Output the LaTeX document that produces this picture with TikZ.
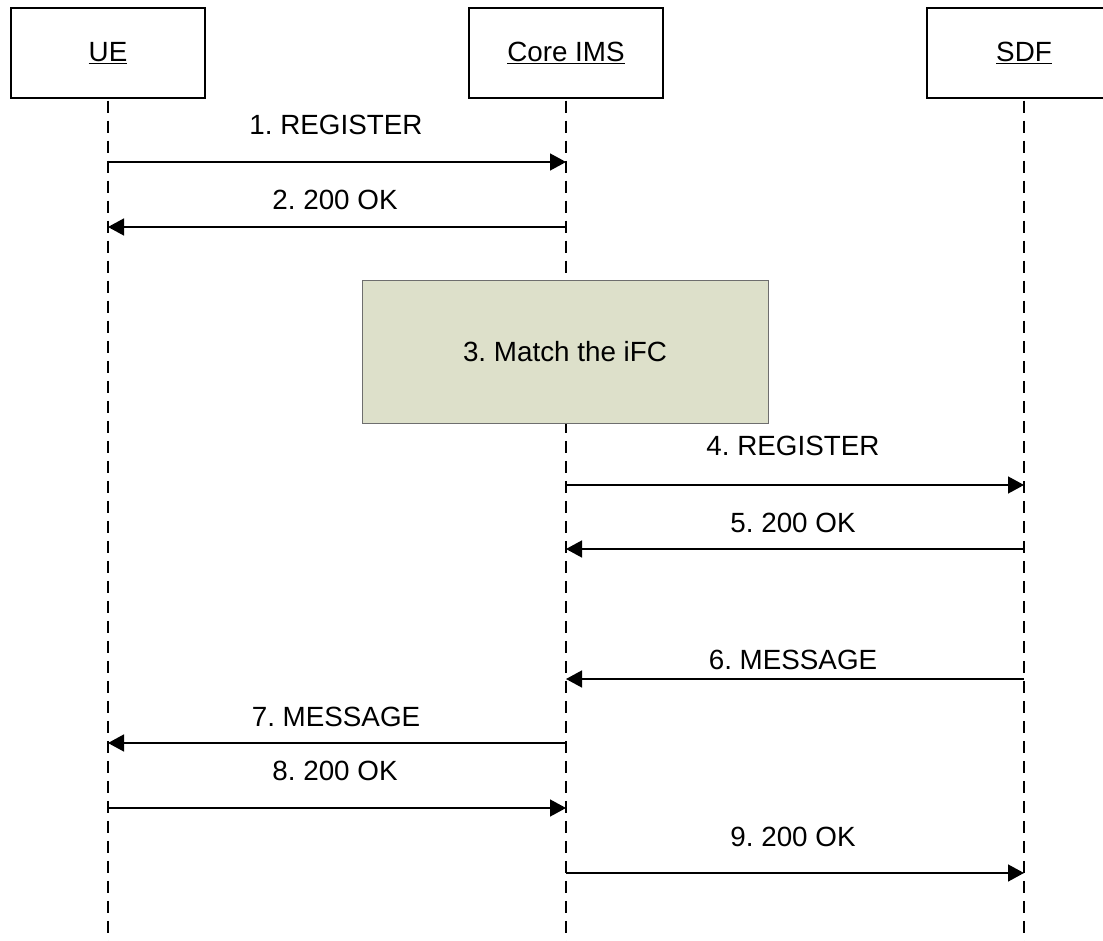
\documentclass[tikz,border=0pt]{standalone}
\usepackage{fontspec}
\setmainfont{Liberation Sans}
\usetikzlibrary{arrows.meta}
\frenchspacing
\definecolor{actfill}{RGB}{221,224,202}
\definecolor{actline}{RGB}{110,110,110}
\tikzset{
  txt/.style={font=\fontsize{27.8}{32}\selectfont\frenchspacing},
  actor/.style={txt,draw=black,line width=1.5pt,fill=white,minimum width=194pt,minimum height=90pt,inner sep=0pt},
  lifeline/.style={draw=black,line width=1.4pt,dash pattern=on 12pt off 8pt},
  msg/.style={draw=black,line width=1.5pt,-{Triangle[length=16pt,width=17pt]}},
  lbl/.style={txt,inner sep=0pt,anchor=base},
  activity/.style={txt,draw=actline,line width=1pt,fill=actfill,minimum width=406pt,minimum height=143pt,inner sep=0pt}
}
\begin{document}
\begin{tikzpicture}[x=1pt,y=-1pt]
\useasboundingbox (0,0) rectangle (1103,941);
\clip (0,0) rectangle (1103,941);
% actors
\node[actor] (ue)  at (108,53) {\underline{UE}};
\node[actor] (ims) at (566,53) {\underline{Core IMS}};
\node[actor] (sdf) at (1024,53) {\underline{SDF}};
% lifeline ends
\coordinate (ueEnd)  at (108,941);
\coordinate (imsEnd) at (566,941);
\coordinate (sdfEnd) at (1024,941);
\draw[lifeline] ([yshift=-2pt]ue.south) -- (ueEnd);
\draw[lifeline] ([yshift=-2pt]ims.south) -- (imsEnd);
\draw[lifeline] ([yshift=-2pt]sdf.south) -- (sdfEnd);
% message points
\foreach \n/\y in {1/162,2/227,4/485,5/549,6/679,7/743,8/808,9/873}{
  \coordinate (ue\n)  at (108,\y);
  \coordinate (ims\n) at (566,\y);
  \coordinate (sdf\n) at (1024,\y);
}
% activity
\node[activity] (match) at (565,352) {3. Match the iFC};
% messages
\draw[msg] (ue1) -- node[lbl,yshift=27pt,xshift=-1pt] (l1) {1. REGISTER} (ims1);
\draw[msg] (ims2) -- node[lbl,yshift=17pt,xshift=-2pt] (l2) {2. 200 OK} (ue2);
\draw[msg] (ims4) -- node[lbl,yshift=30pt,xshift=-2pt] (l4) {4. REGISTER} (sdf4);
\draw[msg] (sdf5) -- node[lbl,yshift=17pt,xshift=-2pt] (l5) {5. 200 OK} (ims5);
\draw[msg] (sdf6) -- node[lbl,yshift=10pt,xshift=-2pt] (l6) {6. MESSAGE} (ims6);
\draw[msg] (ims7) -- node[lbl,yshift=17pt,xshift=-1pt] (l7) {7. MESSAGE} (ue7);
\draw[msg] (ue8) -- node[lbl,yshift=28pt,xshift=-2pt] (l8) {8. 200 OK} (ims8);
\draw[msg] (ims9) -- node[lbl,yshift=27pt,xshift=-2pt] (l9) {9. 200 OK} (sdf9);
\end{tikzpicture}
\end{document}
